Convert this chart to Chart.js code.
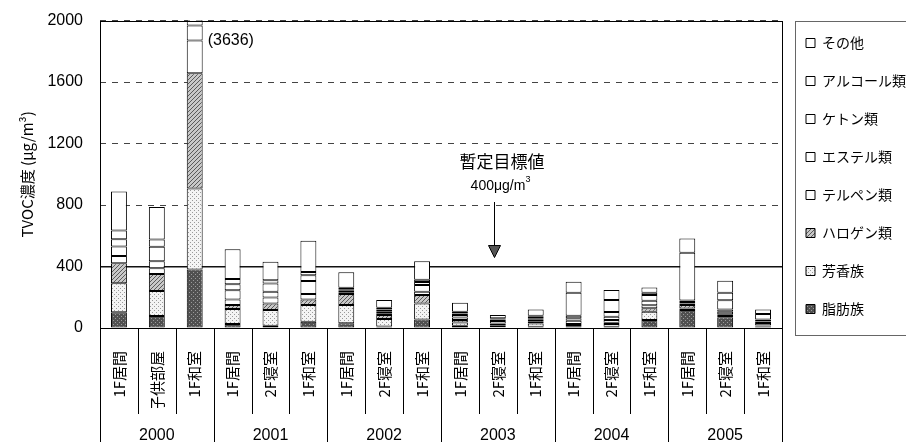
<!DOCTYPE html>
<html>
<head>
<meta charset="utf-8">
<script src="https://cdn.jsdelivr.net/npm/chart.js@4"></script>
<style>
  body { margin: 0; background: #fff; }
  #wrap { width: 906px; height: 442px; position: relative; }
</style>
</head>
<body>
<div id="wrap"><canvas id="tvoc-chart"></canvas></div>
<script>
// rooms (x categories) and the year each group of 3 belongs to
const rooms = ['1F居間', '子供部屋', '1F和室', '1F居間', '2F寝室', '1F和室', '1F居間', '2F寝室', '1F和室',
               '1F居間', '2F寝室', '1F和室', '1F居間', '2F寝室', '1F和室', '1F居間', '2F寝室', '1F和室'];
const years = ['2000', '2001', '2002', '2003', '2004', '2005'];

// series, bottom of the stack first (µg/m3)
const aliphatic = [102, 78, 381, 26, 15, 41, 31, 10, 56, 15, 5, 8, 8, 8, 52, 117, 70, 10];
const aromatic  = [189, 162, 526, 97, 102, 108, 118, 48, 104, 20, 10, 22, 12, 18, 54, 10, 8, 5];
const halogen   = [130, 111, 751, 26, 43, 37, 72, 26, 54, 17, 5, 10, 6, 8, 22, 22, 12, 3];
const terpene   = [48, 37, 212, 37, 39, 35, 8, 12, 22, 17, 10, 14, 21, 18, 20, 10, 15, 15];
const ester     = [61, 47, 98, 59, 37, 84, 13, 13, 43, 15, 15, 10, 16, 22, 30, 10, 16, 10];
const ketone    = [48, 93, 120, 40, 54, 39, 10, 12, 20, 11, 11, 10, 17, 30, 36, 10, 60, 13];
const alcohol   = [56, 48, 250, 33, 20, 20, 10, 10, 15, 10, 8, 6, 149, 78, 15, 310, 48, 35];
const other     = [254, 212, 1298, 195, 121, 203, 100, 51, 121, 60, 21, 41, 72, 65, 35, 93, 78, 30];

const yMax = 2000;
const yStep = 400;
const targetValue = 400;

const numFont = "'Liberation Sans', Arial, sans-serif";
const jpFont = "'Noto Sans CJK JP', 'Liberation Sans', sans-serif";

// small fill textures like the printed original
function makePattern(bg, fg, kind) {
    const c = document.createElement('canvas');
    c.width = 4; c.height = 4;
    const g = c.getContext('2d');
    g.fillStyle = bg;
    g.fillRect(0, 0, 4, 4);
    g.fillStyle = fg;
    if (kind === 'dots') {
        g.fillRect(0, 0, 1, 1);
        g.fillRect(2, 2, 1, 1);
    } else if (kind === 'speck') {
        g.fillRect(1, 0, 1, 1);
        g.fillRect(3, 2, 1, 1);
    } else {
        for (let i = 0; i < 4; i++) g.fillRect(i, 3 - i, 1, 1);
    }
    return g.createPattern(c, 'repeat');
}

const fills = [
    makePattern('#505050', '#9a9a9a', 'speck'),  // 脂肪族
    makePattern('#f4f4f4', '#9a9a9a', 'dots'),   // 芳香族
    makePattern('#c8c8c8', '#5a5a5a', 'hatch'),  // ハロゲン類
    '#fff', '#fff', '#fff', '#fff', '#fff'
];

const seriesNames = ['脂肪族', '芳香族', 'ハロゲン類', 'テルペン類', 'エステル類', 'ケトン類', 'アルコール類', 'その他'];
const seriesData = [aliphatic, aromatic, halogen, terpene, ester, ketone, alcohol, other];

const datasets = seriesNames.map((name, k) => ({
    label: name,
    data: seriesData[k],
    backgroundColor: fills[k],
    borderColor: '#000',
    borderWidth: 1,
    borderSkipped: false,
    barPercentage: 0.42,
    categoryPercentage: 1
}));

// frame, room/year separators, notes
const decorations = {
    id: 'decorations',
    afterDraw(chart) {
        const {ctx, chartArea: a, scales} = chart;
        const xs = scales.x;
        const ys = scales.y;
        ctx.save();
        ctx.strokeStyle = '#000';
        ctx.lineWidth = 1;
        ctx.setLineDash([]);
        ctx.strokeRect(Math.round(a.left) + 0.5, Math.round(a.top) + 0.5,
                       Math.round(a.right - a.left), Math.round(a.bottom - a.top));

        // separators under the axis
        for (let i = 0; i <= rooms.length; i++) {
            let x;
            if (i === 0) x = a.left;
            else if (i === rooms.length) x = a.right;
            else x = (xs.getPixelForValue(i - 1) + xs.getPixelForValue(i)) / 2;
            const yEnd = (i % 3 === 0) ? chart.height : a.bottom + 86;
            ctx.beginPath();
            ctx.moveTo(Math.round(x) + 0.5, a.bottom);
            ctx.lineTo(Math.round(x) + 0.5, yEnd);
            ctx.stroke();
        }

        // total of bars that run off the top
        ctx.fillStyle = '#000';
        ctx.textBaseline = 'middle';
        ctx.textAlign = 'left';
        ctx.font = '16px ' + numFont;
        const lastMeta = chart.getDatasetMeta(datasets.length - 1);
        rooms.forEach((r, i) => {
            const total = seriesData.reduce((s, arr) => s + arr[i], 0);
            if (total > yMax) {
                const bar = lastMeta.data[i];
                ctx.fillText('(' + total + ')', bar.x + bar.width / 2 + 5, a.top + 20);
            }
        });

        // target note with arrow
        const ax = Math.round(a.left + (a.right - a.left) * 0.577);
        const ty = ys.getPixelForValue(targetValue);
        ctx.textAlign = 'center';
        ctx.font = '17px ' + jpFont;
        ctx.fillText('暫定目標値', ax + 8, 162);
        ctx.font = '14px ' + numFont;
        const t = '400μg/m';
        const w = ctx.measureText(t).width;
        ctx.textAlign = 'left';
        ctx.fillText(t, ax + 8 - w / 2 - 4, 186);
        ctx.font = '9px ' + numFont;
        ctx.fillText('3', ax + 8 + w / 2 - 4, 180);

        ctx.beginPath();
        ctx.moveTo(ax + 0.5, 202);
        ctx.lineTo(ax + 0.5, ty - 12);
        ctx.stroke();
        ctx.beginPath();
        ctx.moveTo(ax - 5.5, ty - 21);
        ctx.lineTo(ax + 6.5, ty - 21);
        ctx.lineTo(ax + 0.5, ty - 9);
        ctx.closePath();
        ctx.fillStyle = '#555';
        ctx.fill();
        ctx.stroke();

        // legend frame
        const lg = chart.legend;
        ctx.strokeStyle = '#666';
        ctx.strokeRect(Math.round(lg.left) + 13.5, Math.round(a.top) + 0.5, chart.width, Math.round(a.bottom - a.top) + 7);
        ctx.restore();
    }
};

const chart = new Chart(document.getElementById('tvoc-chart'), {
    type: 'bar',
    data: {
        labels: rooms,
        datasets: datasets
    },
    options: {
        responsive: true,
        maintainAspectRatio: false,
        animation: false,
        layout: {
            padding: {top: 8, left: 14, right: 0, bottom: 0}
        },
        plugins: {
            legend: {
                position: 'right',
                align: 'start',
                reverse: true,
                maxWidth: 124,
                title: {display: true, text: ' ', padding: 0, font: {size: 4, lineHeight: 1}},
                labels: {
                    boxWidth: 9,
                    boxHeight: 9,
                    padding: 24,
                    color: '#000',
                    font: {family: jpFont, size: 14}
                }
            },
            tooltip: {enabled: false}
        },
        scales: {
            x: {
                stacked: true,
                offset: true,
                grid: {display: false},
                border: {display: false},
                afterFit: scale => { scale.height = 80; },
                ticks: {
                    autoSkip: false,
                    maxRotation: 90,
                    minRotation: 90,
                    padding: 15,
                    color: '#000',
                    font: {family: jpFont, size: 15}
                }
            },
            x2: {
                type: 'category',
                labels: years,
                position: 'bottom',
                offset: true,
                grid: {display: false},
                border: {display: false},
                afterFit: scale => { scale.height = 34; },
                ticks: {
                    padding: 10,
                    color: '#000',
                    font: {family: numFont, size: 16}
                }
            },
            y: {
                stacked: true,
                min: 0,
                max: yMax,
                afterFit: scale => { scale.width = 86; },
                grid: {
                    drawTicks: true,
                    tickLength: 6,
                    tickColor: 'rgba(0,0,0,0)',
                    color: ctx => ctx.tick && ctx.tick.value === targetValue ? '#111' : '#444',
                    lineWidth: ctx => ctx.tick && ctx.tick.value === targetValue ? 1.6 : 1
                },
                border: {
                    display: false,
                    dash: ctx => ctx.tick && ctx.tick.value === targetValue ? [] : [6, 6]
                },
                ticks: {
                    stepSize: yStep,
                    padding: 11,
                    color: '#000',
                    font: {family: numFont, size: 16},
                    callback: value => String(value)
                },
                title: {
                    display: true,
                    text: 'TVOC濃度 (μg/m³)',
                    color: '#000',
                    padding: {top: 4, bottom: 14},
                    font: {family: jpFont, size: 15}
                }
            }
        }
    },
    plugins: [decorations]
});
</script>
</body>
</html>
